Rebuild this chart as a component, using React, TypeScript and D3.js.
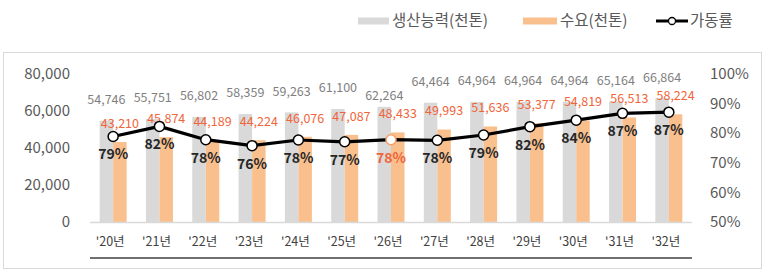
import React from "react";
import * as d3 from "d3";

// 연도별 생산능력 / 수요 (천톤), 가동률(%)
const years = ["'20년", "'21년", "'22년", "'23년", "'24년", "'25년", "'26년", "'27년", "'28년", "'29년", "'30년", "'31년", "'32년"];
const capacity = [54746, 55751, 56802, 58359, 59263, 61100, 62264, 64464, 64964, 64964, 64964, 65164, 66864];
const demand = [43210, 45874, 44189, 44224, 46076, 47087, 48433, 49993, 51636, 53377, 54819, 56513, 58224];
const utilization = [78.9, 82.3, 77.8, 75.8, 77.7, 77.1, 77.8, 77.6, 79.4, 82.2, 84.4, 86.7, 87.1];
const leftTicks = [0, 20000, 40000, 60000, 80000];
const rightTicks = [50, 60, 70, 80, 90, 100];
const highlight = "'26년";

const W = 772;
const H = 273;
const FONT = "'Noto Sans CJK KR', 'Noto Sans', sans-serif";
const GRAY = "#d9d9d9";
const ORANGE = "#f9c08e";
const RED = "#f0653a";

const App: React.FC = () => {
  const x = d3.scaleBand<string>().domain(years).range([90, 692]);
  const yL = d3.scaleLinear().domain([0, 80000]).range([222, 74]);
  const yR = d3.scaleLinear().domain([50, 100]).range([222, 74]);
  const barW = 13.5;
  const cx = (d: string) => x(d)! + x.bandwidth() / 2;
  const fmt = d3.format(",");

  const line = d3.line<number>()
    .x((_, i) => cx(years[i]))
    .y((d) => yR(d));

  return (
    <svg width={W} height={H} style={{ position: "absolute", left: 0, top: 0, fontFamily: FONT }}>
      <rect width={W} height={H} fill="#fff" />
      {/* legend */}
      <g fontSize={15.5} fill="#595959">
        <rect x={358} y={17.5} width={31} height={7} fill={GRAY} />
        <text x={392} y={21} dy="0.35em">생산능력(천톤)</text>
        <rect x={523} y={17.5} width={34} height={7} fill={ORANGE} />
        <text x={560} y={21} dy="0.35em">수요(천톤)</text>
        <line x1={656} x2={688} y1={21} y2={21} stroke="#000" strokeWidth={3} />
        <circle cx={672} cy={21} r={3.5} fill="#fff" stroke="#000" strokeWidth={1.3} />
        <text x={690} y={21} dy="0.35em">가동률</text>
      </g>

      <rect x={3.5} y={52.5} width={758} height={216} fill="none" stroke="#d9d9d9" />

      {/* left axis */}
      <g fontSize={15} fill="#595959" textAnchor="end">
        {leftTicks.map((t) => (
          <text key={t} x={70} y={yL(t)} dy="0.35em">{fmt(t)}</text>
        ))}
      </g>
      {/* right axis */}
      <g fontSize={15} fill="#595959">
        {rightTicks.map((t) => (
          <text key={t} x={710} y={yR(t)} dy="0.35em">{t}%</text>
        ))}
      </g>

      {/* bars */}
      {years.map((yr, i) => (
        <g key={yr}>
          <rect x={cx(yr) - barW} y={yL(capacity[i])} width={barW} height={yL(0) - yL(capacity[i])} fill={GRAY} />
          <rect x={cx(yr)} y={yL(demand[i])} width={barW} height={yL(0) - yL(demand[i])} fill={ORANGE} />
        </g>
      ))}

      <line x1={90} x2={692} y1={222.5} y2={222.5} stroke="#d9d9d9" strokeWidth={1.5} />
      <line x1={90} x2={692} y1={258} y2={258} stroke="#404040" strokeWidth={1.5} />

      {/* category labels */}
      <g fontSize={12.5} fill="#404040" textAnchor="middle">
        {years.map((yr) => (
          <text key={yr} x={cx(yr) - 3} y={242} dy="0.35em">{yr}</text>
        ))}
      </g>

      {/* bar value labels */}
      <g fontSize={12.5} textAnchor="middle">
        {years.map((yr, i) => (
          <text key={"c" + yr} x={cx(yr) - barW / 2} y={yL(capacity[i]) - (yr === highlight ? 11 : 21)} dy="0.35em" fill="#7f7f7f">
            {fmt(capacity[i])}
          </text>
        ))}
        {years.map((yr, i) => (
          <text key={"d" + yr} x={cx(yr) + barW / 2} y={yL(demand[i]) - 18.5} dy="0.35em" fill={RED}>
            {fmt(demand[i])}
          </text>
        ))}
      </g>

      {/* utilization line */}
      <path d={line(utilization)!} fill="none" stroke="#000" strokeWidth={3.2} strokeLinejoin="round" />
      {years.map((yr, i) => (
        <circle key={"m" + yr} cx={cx(yr)} cy={yR(utilization[i])} r={5} fill="#fff"
          stroke={yr === highlight ? "#f4a06a" : "#000"} strokeWidth={1.5} />
      ))}
      <g fontSize={14} fontWeight={600} textAnchor="middle">
        {years.map((yr, i) => (
          <text key={"u" + yr} x={cx(yr)} y={yR(utilization[i]) + 18} dy="0.35em"
            fill={yr === highlight ? RED : "#262626"}>
            {Math.round(utilization[i])}%
          </text>
        ))}
      </g>
    </svg>
  );
};

export default App;
